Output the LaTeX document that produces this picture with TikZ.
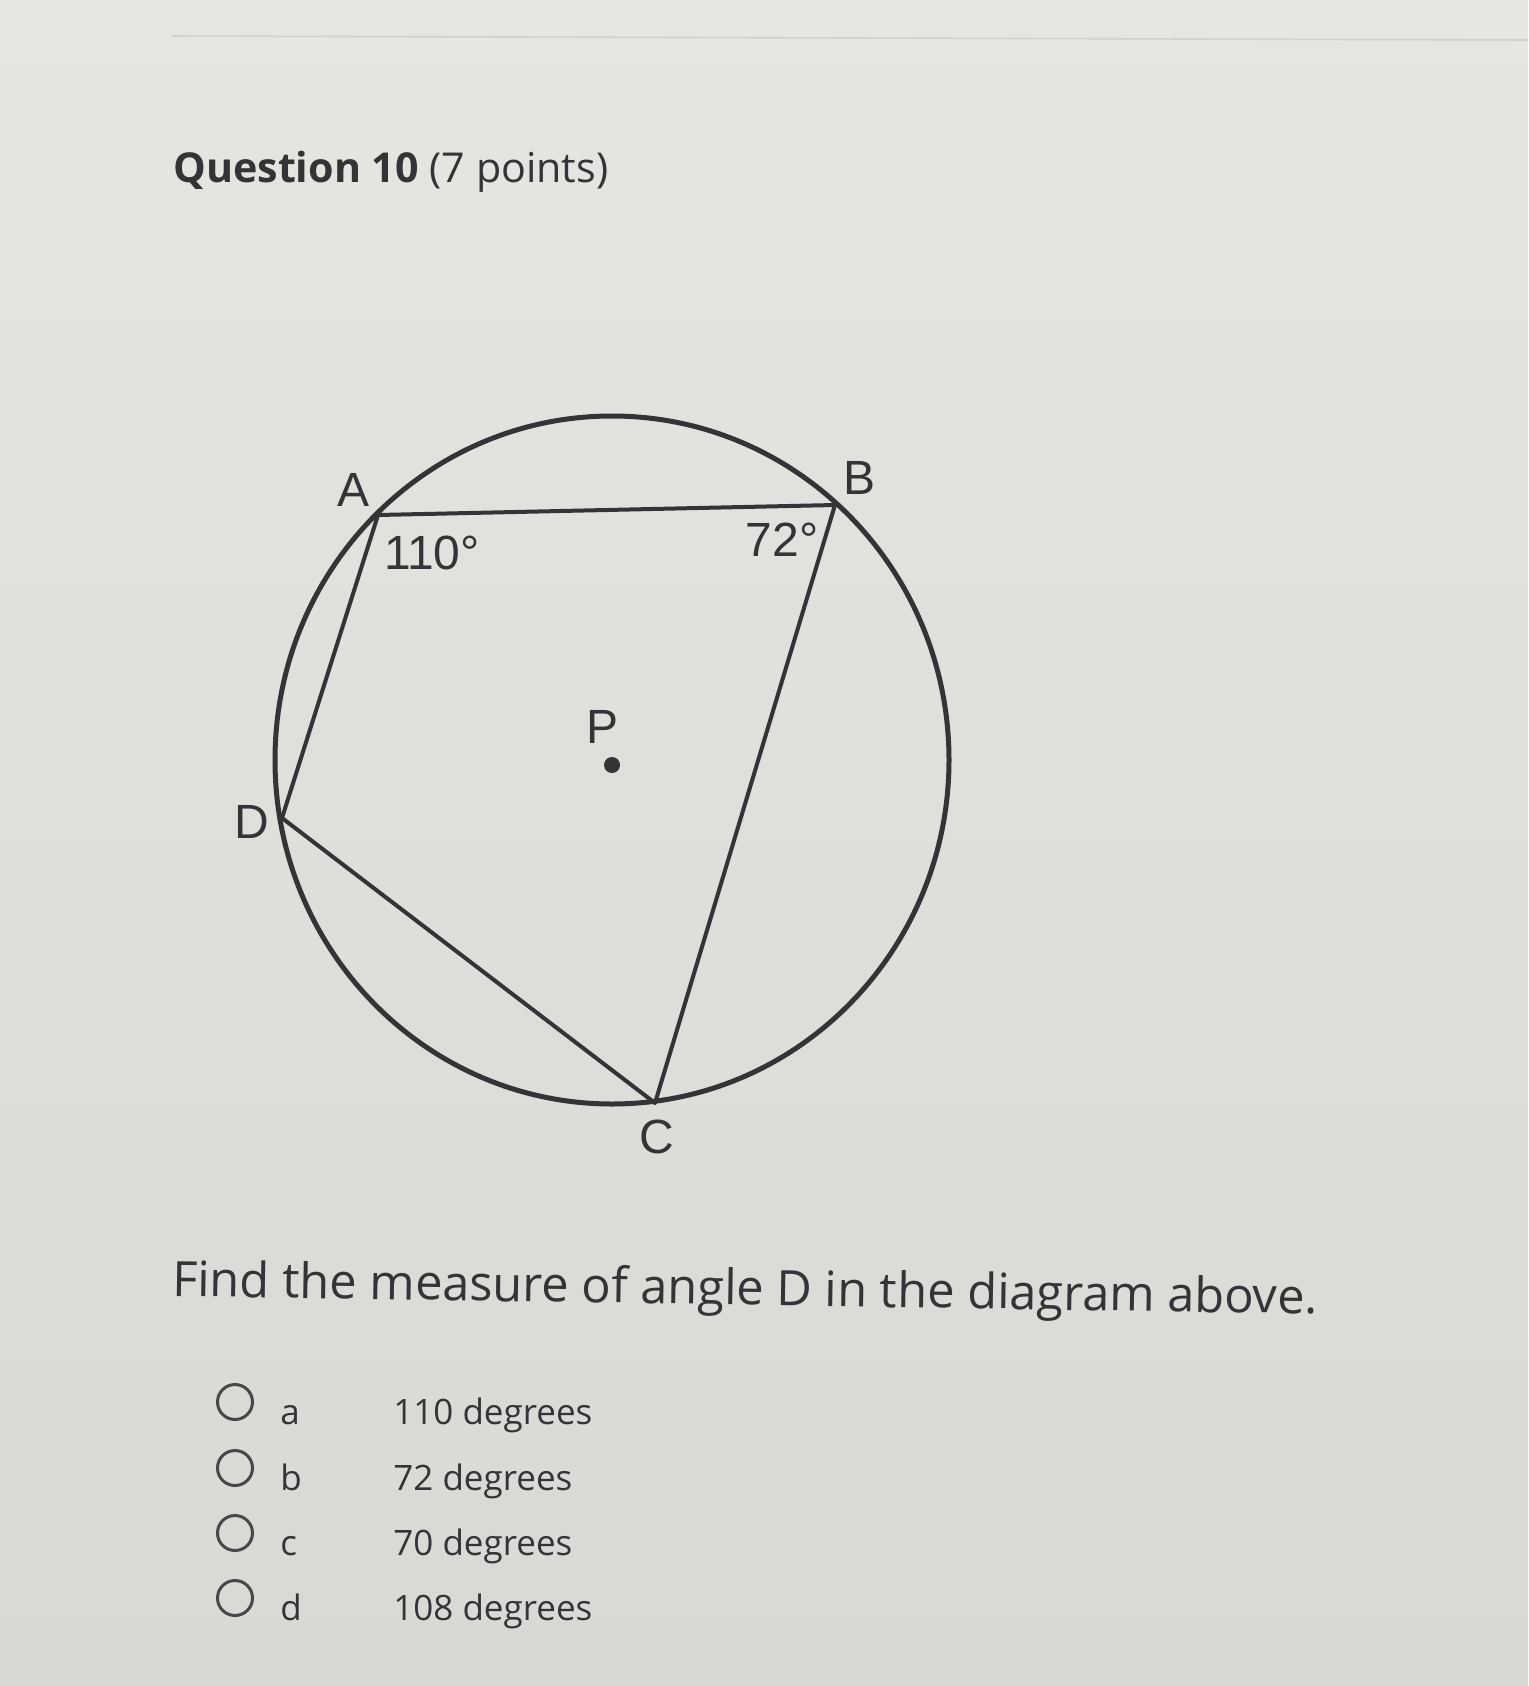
\documentclass[tikz,border=0pt]{standalone}
\usepackage{fontspec}
\setmainfont{Open Sans}
\newfontfamily\labelfont{Liberation Sans}
\usetikzlibrary{positioning}
\definecolor{paper}{RGB}{229,229,226}
\definecolor{paperdark}{RGB}{216,217,213}
\definecolor{ink}{RGB}{52,52,54}
\tikzset{vertex label/.style={font=\labelfont\fontsize{24}{24}\selectfont,text=ink,inner sep=0pt},
            main text/.style={anchor=base west,inner sep=0pt,text=ink},
            option circle/.style={circle,draw=ink!90,line width=1.5pt,minimum size=17.5pt,inner sep=0pt},
            option text/.style={main text,font=\fontsize{17.5}{20}\selectfont},
            }

\begin{document}
\begin{tikzpicture}[x=0.5pt,y=-0.5pt]
    \shade[top color=paper,bottom color=paperdark] (0,0) rectangle (1528,1686);
    \useasboundingbox (0,0) rectangle (1528,1686);
    \draw[black!18,line width=0.8pt] (172,36) -- (1528,40);

    \node[main text,font=\fontsize{20.6}{24}\selectfont] (title) at (173,183) {\textbf{Question 10} (7 points)};

    % circle and quadrilateral
    \draw[ink,line width=2.5pt] (612,760) ellipse [x radius=337, y radius=344];
    \coordinate (A) at (378,515);
    \coordinate (B) at (835,505);
    \coordinate (C) at (655,1103);
    \coordinate (D) at (282,818);
    \draw[ink,line width=2pt,line join=round] (A) -- (B) -- (C) -- (D) -- cycle;

    \node[vertex label] (labA) at (354,490) {A};
    \node[vertex label] (labB) at (859,478) {B};
    \node[vertex label] (labC) at (657,1137) {C};
    \node[vertex label] (labD) at (252,822) {D};
    \node[vertex label] (labP) at (603,727) {P};
    \node[circle,fill=ink,minimum size=8pt,inner sep=0pt] (P) at (612,765) {};
    \node[vertex label] (angA) at (432,553) {110°};
    \node[vertex label] (angB) at (782,540) {72°};

    \node[main text,font=\fontsize{24.4}{30}\selectfont,rotate=-0.9] (task) at (172,1296) {Find the measure of angle D in the diagram above.};

    \foreach \ltr/\txt/\y in {a/110 degrees/1424, b/72 degrees/1490, c/70 degrees/1555, d/108 degrees/1620} {
        \node[option circle] (opt\ltr) at (235,\y-22) {};
        \node[option text] (key\ltr) at (280,\y) {\ltr};
        \node[option text] (ans\ltr) at (393,\y) {\txt};
    }
\end{tikzpicture}
\end{document}
